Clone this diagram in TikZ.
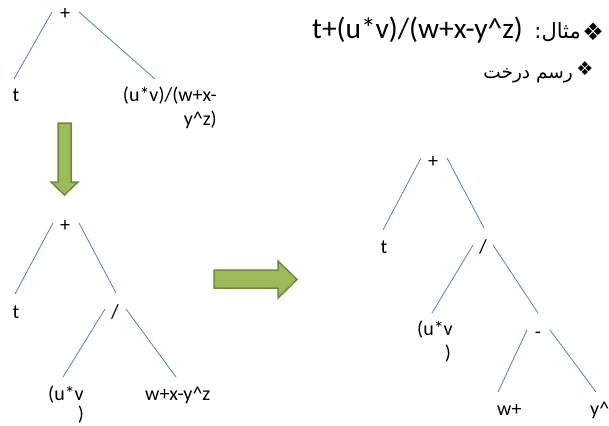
\documentclass[tikz,border=0pt]{standalone}
\usepackage{fontspec}
\setmainfont{Carlito}
\newfontfamily\arabicfont[Script=Arabic]{DejaVu Sans}
\newfontfamily\dejasym{DejaVu Sans}
\TeXXeTstate=1
\definecolor{edgeblue}{RGB}{79,129,189}
\definecolor{arrfill}{RGB}{155,187,89}
\definecolor{arrdraw}{RGB}{113,137,63}
\begin{document}
\begin{tikzpicture}[x=1pt,y=-1pt,
  lbl/.style={inner sep=0pt, font=\fontsize{20}{24}\selectfont},
  edge/.style={draw=edgeblue, line width=0.8pt},
  bigarrow/.style={fill=arrfill, draw=arrdraw, line width=1.5pt, line join=miter}]
\useasboundingbox (0,0) rectangle (609,425);

% ---------- header ----------
\node[inner sep=0pt, anchor=base west, font=\fontsize{29.4}{33}\selectfont] (expr) at (312,39) {t+(u*v)/(w+x-y\^{}z)};
\node[inner sep=0pt, anchor=base east, font=\arabicfont\fontsize{21}{24}\selectfont] (mesal) at (581,39) {\beginR مثال:\endR};
\node[inner sep=0pt, anchor=center, font=\dejasym\fontsize{24}{26}\selectfont] (bul1) at (593,32) {❖};
\node[inner sep=0pt, anchor=base east, font=\arabicfont\fontsize{18.5}{22}\selectfont] (rasm) at (573,78) {\beginR رسم درخت\endR};
\node[inner sep=0pt, anchor=center, font=\dejasym\fontsize{19}{22}\selectfont] (bul2) at (585,69) {❖};

% ---------- tree 1 ----------
\node[lbl, anchor=base] (a0) at (65,20) {+};
\node[lbl, anchor=base] (a1) at (16,102) {t};
\node[lbl, anchor=base east] (a2) at (217,101) {(u*v)/(w+x-};
\node[lbl, anchor=base east] (a2b) at (217,125) {y\^{}z)};
\draw[edge] (52,12) coordinate (a0l) -- (14,79) coordinate (a1t);
\draw[edge] (79,12) coordinate (a0r) -- (155,79) coordinate (a2t);

% ---------- down arrow ----------
\draw[bigarrow] (58,123) -- (71,123) -- (71,182) -- (78,182) -- (64.5,195) -- (51,182) -- (58,182) -- cycle;

% ---------- tree 2 ----------
\node[lbl, anchor=base] (b0) at (65,231) {+};
\node[lbl, anchor=base] (b1) at (16,318) {t};
\node[lbl, anchor=base] (b2) at (115,318) {/};
\node[lbl, anchor=base west] (b3) at (48,400) {(u*v};
\node[lbl, anchor=base] (b3b) at (81,420) {)};
\node[lbl, anchor=base west] (b4) at (145,400) {w+x-y\^{}z};
\draw[edge] (53,223) coordinate (b0l) -- (15,294) coordinate (b1t);
\draw[edge] (79,223) coordinate (b0r) -- (116,293) coordinate (b2t);
\draw[edge] (105,309) coordinate (b2l) -- (63,377) coordinate (b3t);
\draw[edge] (126,309) coordinate (b2r) -- (176,377) coordinate (b4t);

% ---------- right arrow ----------
\draw[bigarrow] (214,270) -- (278,270) -- (278,261) -- (297,279.5) -- (278,298) -- (278,288) -- (214,288) -- cycle;

% ---------- tree 3 ----------
\node[lbl, anchor=base] (c0) at (433,167) {+};
\node[lbl, anchor=base] (c1) at (384,253) {t};
\node[lbl, anchor=base] (c2) at (483,253) {/};
\node[lbl, anchor=base west] (c3) at (417,335) {(u*v};
\node[lbl, anchor=base] (c3b) at (448,359) {)};
\node[lbl, anchor=base] (c4) at (538,338) {-};
\node[lbl, anchor=base west] (c5) at (497,415) {w+};
\node[lbl, anchor=base west] (c6) at (590,415) {y\^{}};
\draw[edge] (421,158) coordinate (c0l) -- (383,230) coordinate (c1t);
\draw[edge] (447,158) coordinate (c0r) -- (484,228) coordinate (c2t);
\draw[edge] (473,245) coordinate (c2l) -- (432,313) coordinate (c3t);
\draw[edge] (493,245) coordinate (c2r) -- (538,313) coordinate (c4t);
\draw[edge] (527,330) coordinate (c4l) -- (498,392) coordinate (c5t);
\draw[edge] (550,330) coordinate (c4r) -- (596,392) coordinate (c6t);
\end{tikzpicture}
\end{document}
